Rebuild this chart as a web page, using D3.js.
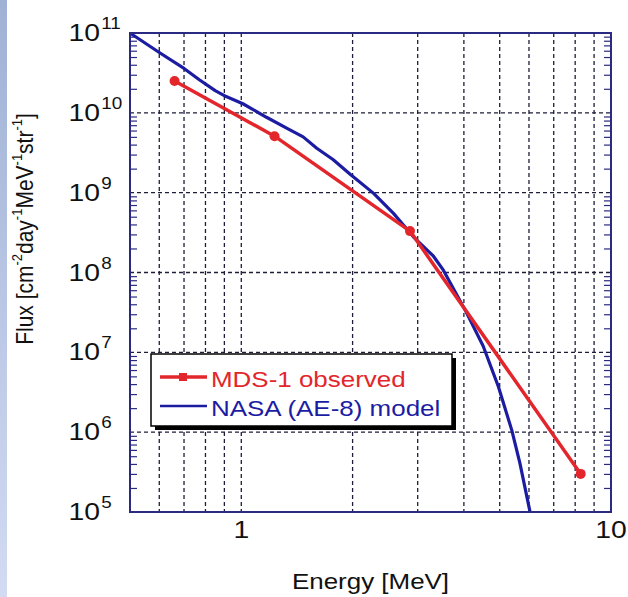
<!DOCTYPE html>
<html>
<head>
<meta charset="utf-8">
<script src="https://cdn.jsdelivr.net/npm/d3@7"></script>
<style>
  html, body { margin: 0; padding: 0; background: #fff; }
  svg text { font-family: "Liberation Sans", Arial, sans-serif; }
</style>
</head>
<body>
<svg id="chart" width="628" height="597"></svg>
<script>
// Electron flux spectrum: MDS-1 measurement vs NASA AE-8 model
const mdsEnergy = [0.66, 1.23, 2.86, 8.28];
const mdsFlux   = [2.5e10, 5.1e9, 3.3e8, 3.0e5];

const ae8Energy = [0.5, 0.60, 0.70, 0.77, 0.85, 0.91, 1.01, 1.17, 1.33, 1.47, 1.60, 1.77,
                   1.97, 2.28, 2.58, 2.92, 3.31, 3.52, 4.03, 4.51, 4.96, 5.39, 5.67, 6.04];
const ae8Flux   = [1.0e11, 5.7e10, 3.6e10, 2.6e10, 1.9e10, 1.6e10, 1.3e10, 8.8e9, 6.4e9, 5.0e9, 3.6e9, 2.6e9,
                   1.7e9, 9.8e8, 5.5e8, 2.8e8, 1.6e8, 1.07e8, 3.4e7, 1.2e7, 3.7e6, 1.06e6, 4.1e5, 1.0e5];

const xTickValues = [1, 10];
const xTickLabels = ["1", "10"];
const yExponents  = [5, 6, 7, 8, 9, 10, 11];

const seriesNames = ["MDS-1 observed", "NASA (AE-8) model"];
const RED = "#e3262b", BLUE = "#1c1ca3", FRAME = "#2a2a82";
const SX = 1.18; // horizontal text stretch

const svg = d3.select("#chart");

// slide-coloured strip at the left edge
const defs = svg.append("defs");
const grad = defs.append("linearGradient").attr("id", "strip").attr("x1", 0).attr("y1", 0).attr("x2", 0).attr("y2", 1);
grad.append("stop").attr("offset", "0%").attr("stop-color", "#9fb1d5");
grad.append("stop").attr("offset", "100%").attr("stop-color", "#d3dbf3");
svg.append("rect").attr("x", 0).attr("y", 0).attr("width", 7).attr("height", 597).attr("fill", "url(#strip)");

const m = { left: 130, right: 611, top: 33, bottom: 512 };
const x = d3.scaleLog().domain([0.5, 10]).range([m.left, m.right]);
const y = d3.scaleLog().domain([1e5, 1e11]).range([m.bottom, m.top]);

// vertical dashed grid
const xGrid = [0.6, 0.7, 0.8, 0.9, 1, 2, 3, 4, 5, 6, 7, 8, 9];
svg.append("g").selectAll("line").data(xGrid).join("line")
  .attr("x1", d => x(d)).attr("x2", d => x(d))
  .attr("y1", m.top).attr("y2", m.bottom)
  .attr("stroke", "#1e1e3a").attr("stroke-width", 1.3).attr("stroke-dasharray", "4,3");

// horizontal dashed grid at each decade
const yGrid = yExponents.slice(1, -1).map(e => Math.pow(10, e));
svg.append("g").selectAll("line").data(yGrid).join("line")
  .attr("y1", d => y(d)).attr("y2", d => y(d))
  .attr("x1", m.left).attr("x2", m.right)
  .attr("stroke", "#1e1e3a").attr("stroke-width", 1.3).attr("stroke-dasharray", "4,3");

// minor ticks on left and right frame
const minor = [];
for (let e = 5; e < 11; e++) for (let k = 2; k <= 9; k++) minor.push(k * Math.pow(10, e));
const leftAxis = d3.axisRight(y).tickValues(minor).tickSize(7).tickFormat("");
const rightAxis = d3.axisLeft(y).tickValues(minor).tickSize(7).tickFormat("");
const gl = svg.append("g").attr("transform", `translate(${m.left},0)`).call(leftAxis);
const gr = svg.append("g").attr("transform", `translate(${m.right},0)`).call(rightAxis);
[gl, gr].forEach(g => {
  g.select(".domain").remove();
  g.selectAll("line").attr("stroke", FRAME).attr("stroke-width", 1.2);
});

// AE-8 model curve
const line = d3.line().x(d => x(d[0])).y(d => y(d[1]));
svg.append("path")
  .datum(d3.zip(ae8Energy, ae8Flux))
  .attr("d", line).attr("fill", "none")
  .attr("stroke", BLUE).attr("stroke-width", 3.2).attr("stroke-linejoin", "round");

// MDS-1 measurement
const mds = d3.zip(mdsEnergy, mdsFlux);
svg.append("path").datum(mds).attr("d", line).attr("fill", "none")
  .attr("stroke", RED).attr("stroke-width", 3.5).attr("stroke-linejoin", "round");
svg.append("g").selectAll("circle").data(mds).join("circle")
  .attr("cx", d => x(d[0])).attr("cy", d => y(d[1])).attr("r", 5).attr("fill", RED);

// frame
svg.append("rect").attr("x", m.left).attr("y", m.top)
  .attr("width", m.right - m.left).attr("height", m.bottom - m.top)
  .attr("fill", "none").attr("stroke", FRAME).attr("stroke-width", 2);

// y tick labels 10^n
yExponents.forEach(e => {
  const g = svg.append("g").attr("transform", `translate(100,${y(Math.pow(10, e)) + 8}) scale(${SX},1)`);
  g.append("text").attr("text-anchor", "end").attr("font-size", 24).attr("fill", "#111").text("10");
  g.append("text").attr("x", 1).attr("y", -12).attr("font-size", 16).attr("fill", "#111").text(e);
});

// x tick labels
xTickValues.forEach((v, i) => {
  svg.append("g").attr("transform", `translate(${x(v)},538) scale(${SX},1)`)
    .append("text").attr("text-anchor", "middle").attr("font-size", 24).attr("fill", "#111")
    .text(xTickLabels[i]);
});

// axis titles
svg.append("g").attr("transform", `translate(${(m.left + m.right) / 2},589) scale(${SX},1)`)
  .append("text").attr("text-anchor", "middle").attr("font-size", 22).attr("fill", "#111")
  .text("Energy [MeV]");

const yt = svg.append("g").attr("transform", `translate(33,229) scale(${SX},1) rotate(-90)`)
  .append("text").attr("text-anchor", "middle").attr("font-size", 21).attr("fill", "#111");
const ylabelParts = [["Flux [cm", null], ["-2", "sup"], ["day", null], ["-1", "sup"], ["MeV", null], ["-1", "sup"], ["str", null], ["-1", "sup"], ["]", null]];
let raised = false;
ylabelParts.forEach(([t, kind]) => {
  const ts = yt.append("tspan").text(t);
  if (kind === "sup") { ts.attr("font-size", 13).attr("dy", -9); raised = true; }
  else if (raised) { ts.attr("dy", 9); raised = false; }
});

// legend
const lg = svg.append("g");
lg.append("rect").attr("x", 155).attr("y", 358).attr("width", 301).attr("height", 72).attr("fill", "#000");
lg.append("rect").attr("x", 151).attr("y", 354).attr("width", 301).attr("height", 72)
  .attr("fill", "#fff").attr("stroke", "#000").attr("stroke-width", 1.5);
lg.append("line").attr("x1", 160).attr("x2", 207).attr("y1", 377).attr("y2", 377)
  .attr("stroke", RED).attr("stroke-width", 3.5);
lg.append("rect").attr("x", 179).attr("y", 373).attr("width", 8).attr("height", 8).attr("fill", RED);
lg.append("line").attr("x1", 160).attr("x2", 207).attr("y1", 406).attr("y2", 406)
  .attr("stroke", BLUE).attr("stroke-width", 2.5);
[[RED, 387], [BLUE, 416]].forEach(([c, by], i) => {
  lg.append("g").attr("transform", `translate(211,${by}) scale(${SX},1)`)
    .append("text").attr("font-size", 22).attr("fill", c).text(seriesNames[i]);
});
</script>
</body>
</html>
